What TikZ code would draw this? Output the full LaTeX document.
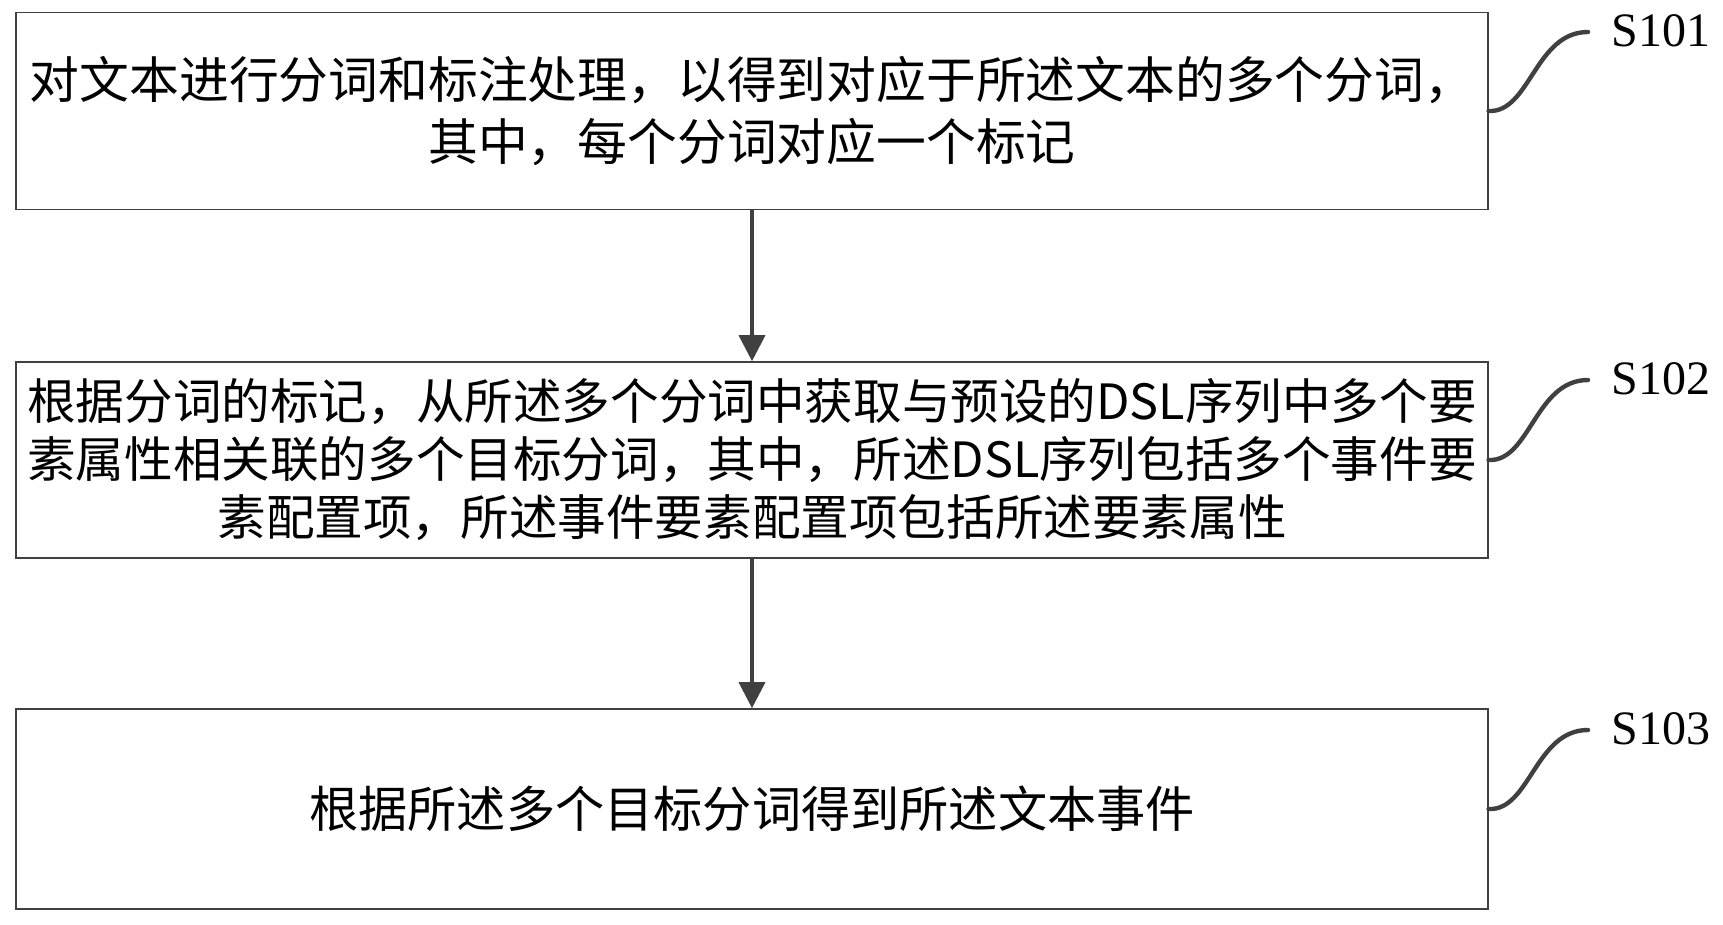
\documentclass[tikz,border=0pt]{standalone}
\usepackage{fontspec}
\setmainfont{Liberation Serif}
\newfontfamily\cjk{Noto Sans CJK SC}
\usetikzlibrary{arrows.meta}
\definecolor{linegray}{HTML}{404040}
\tikzset{
  stepbox/.style={draw=linegray, line width=0.8pt, minimum width=735.75pt, inner sep=0pt, align=center, font=\cjk\fontsize{24.6pt}{30pt}\selectfont},
  flow/.style={draw=linegray, line width=1.8pt, -{Triangle[length=13pt,width=13pt]}},
  tag/.style={anchor=west, inner sep=0pt, font=\fontsize{24pt}{28pt}\selectfont},
  leader/.style={draw=linegray, line width=2.2pt, line cap=round}
}
\begin{document}
\begin{tikzpicture}[x=0.5pt,y=-0.5pt]
\useasboundingbox (0,0) rectangle (1723,925);
\node[stepbox, minimum height=98.5pt, font=\cjk\fontsize{24.9pt}{31pt}\selectfont] (b1) at (752,111) {对文本进行分词和标注处理，以得到对应于所述文本的多个分词，\\其中，每个分词对应一个标记};
\node[stepbox, minimum height=98pt, font=\cjk\fontsize{24.3pt}{29pt}\selectfont] (b2) at (752,460) {根据分词的标记，从所述多个分词中获取与预设的DSL序列中多个要\\素属性相关联的多个目标分词，其中，所述DSL序列包括多个事件要\\素配置项，所述事件要素配置项包括所述要素属性};
\node[stepbox, minimum height=100pt] (b3) at (752,809) {根据所述多个目标分词得到所述文本事件};
\draw[flow] (b1.south) -- (b2.north);
\draw[flow] (b2.south) -- (b3.north);
\node[tag] (l1) at (1611,31) {S101};
\node[tag] (l2) at (1611,379) {S102};
\node[tag] (l3) at (1611,729) {S103};
\coordinate (e1) at (1588,32);
\coordinate (e2) at (1588,380);
\coordinate (e3) at (1588,730);
\draw[leader] (b1.east) .. controls (1530,113) and (1535,32) .. (e1);
\draw[leader] (b2.east) .. controls (1530,462) and (1535,380) .. (e2);
\draw[leader] (b3.east) .. controls (1530,811) and (1535,730) .. (e3);
\end{tikzpicture}
\end{document}
